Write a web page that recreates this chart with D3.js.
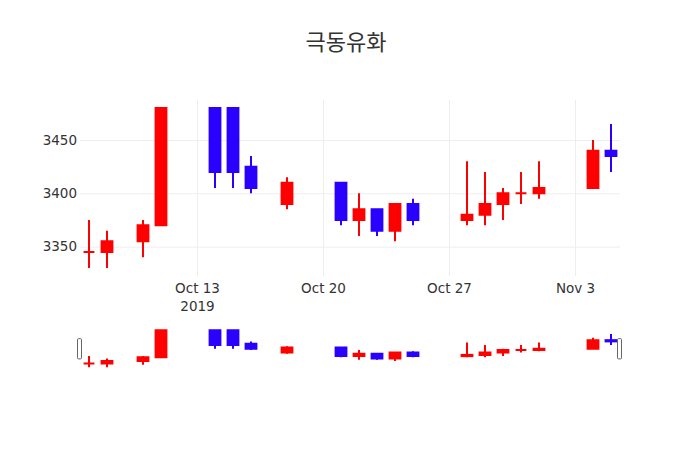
<!DOCTYPE html>
<html>
<head>
<meta charset="utf-8">
<script src="https://cdn.jsdelivr.net/npm/d3@7"></script>
<style>
    body { margin: 0; background: #fff; }
    .axis text { font-family: "DejaVu Sans", sans-serif; font-size: 13.5px; fill: #333; }
</style>
</head>
<body>
<svg id="chart" width="700" height="450"></svg>
<script>
const width = 700;
const height = 450;
const plot = { left: 80, right: 620, top: 100, bottom: 276 };
const slider = { top: 328.5, bottom: 369 };

const title = "극동유화";
const dates = ["2019-10-07", "2019-10-08", "2019-10-10", "2019-10-11", "2019-10-14",
    "2019-10-15", "2019-10-16", "2019-10-18", "2019-10-21", "2019-10-22",
    "2019-10-23", "2019-10-24", "2019-10-25", "2019-10-28", "2019-10-29",
    "2019-10-30", "2019-10-31", "2019-11-01", "2019-11-04", "2019-11-05"];
const opens = [3345, 3345, 3355, 3370, 3480, 3480, 3425, 3390, 3410, 3375,
    3385, 3365, 3390, 3375, 3380, 3390, 3400, 3400, 3405, 3440];
const highs = [3375, 3365, 3375, 3480, 3480, 3480, 3435, 3415, 3410, 3400,
    3385, 3390, 3395, 3430, 3420, 3405, 3420, 3430, 3450, 3465];
const lows = [3330, 3330, 3340, 3370, 3405, 3405, 3400, 3385, 3370, 3360,
    3360, 3355, 3370, 3370, 3370, 3375, 3390, 3395, 3405, 3420];
const closes = [3345, 3355, 3370, 3480, 3420, 3420, 3405, 3410, 3375, 3385,
    3365, 3390, 3375, 3380, 3390, 3400, 3400, 3405, 3440, 3435];
const yTicks = [3350, 3400, 3450];
const xTicks = ["2019-10-13", "2019-10-20", "2019-10-27", "2019-11-03"];

const upColor = "#ff0000";
const downColor = "#2a00ff";
const day = 24 * 3600 * 1000;

const parse = d3.timeParse("%Y-%m-%d");
const data = dates.map((d, i) => ({
    date: parse(d), open: opens[i], high: highs[i], low: lows[i], close: closes[i]
}));

const svg = d3.select("#chart");

// x scale, half a day of padding on each side
const x = d3.scaleTime()
    .domain([new Date(+data[0].date - day / 2), new Date(+data[data.length - 1].date + day / 2)])
    .range([plot.left, plot.right]);

// y domain padded by 5% like plotly autorange
const yMin = d3.min(lows), yMax = d3.max(highs);
const pad = (yMax - yMin) * 0.05;
const y = d3.scaleLinear()
    .domain([yMin - pad, yMax + pad])
    .range([plot.bottom, plot.top]);

const ys = d3.scaleLinear()
    .domain(y.domain())
    .range([slider.bottom, slider.top]);

// title
svg.append("text")
    .attr("x", width / 2 - 4)
    .attr("y", 50)
    .attr("text-anchor", "middle")
    .attr("font-family", "'Noto Sans CJK KR', sans-serif")
    .attr("font-size", "22px")
    .attr("fill", "#333")
    .text(title);

// y axis with gridlines
const yAxis = svg.append("g")
    .attr("class", "axis y")
    .attr("transform", `translate(${plot.left}, 0)`)
    .call(d3.axisLeft(y)
        .tickValues(yTicks)
        .tickSize(-(plot.right - plot.left))
        .tickPadding(3)
        .tickFormat(d3.format("d")));
yAxis.select(".domain").remove();
yAxis.selectAll("line").attr("stroke", "#eee");

// x axis with gridlines
const xAxis = svg.append("g")
    .attr("class", "axis x")
    .attr("transform", `translate(0, ${plot.bottom})`)
    .call(d3.axisBottom(x)
        .tickValues(xTicks.map(parse))
        .tickSize(-(plot.bottom - plot.top))
        .tickPadding(7)
        .tickFormat(d3.timeFormat("%b %-d")));
xAxis.select(".domain").remove();
xAxis.selectAll("line").attr("stroke", "#eee");
xAxis.select(".tick text")
    .append("tspan")
    .attr("x", 0)
    .attr("dy", "1.33em")
    .text("2019");

const bodyWidth = x(new Date(+data[0].date + 0.3 * day)) - x(new Date(+data[0].date - 0.3 * day));
const color = d => d.close >= d.open ? upColor : downColor;

function drawCandles(g, yScale) {
    const c = g.selectAll("g")
        .data(data)
        .enter()
        .append("g");

    c.append("line")
        .attr("x1", d => x(d.date))
        .attr("x2", d => x(d.date))
        .attr("y1", d => yScale(d.high))
        .attr("y2", d => yScale(d.low))
        .attr("stroke", color)
        .attr("stroke-width", 2);

    // body as a path so a flat candle still shows its outline
    c.append("path")
        .attr("d", d => {
            const x0 = x(d.date) - bodyWidth / 2;
            const y0 = yScale(Math.max(d.open, d.close));
            const h = Math.abs(yScale(d.open) - yScale(d.close));
            return `M${x0},${y0}h${bodyWidth}v${h}h${-bodyWidth}Z`;
        })
        .attr("fill", color)
        .attr("stroke", color)
        .attr("stroke-width", 2);
}

drawCandles(svg.append("g").attr("class", "candles"), y);
drawCandles(svg.append("g").attr("class", "slider-candles"), ys);

// range slider grabbers
const mid = (slider.top + slider.bottom) / 2;
const handleH = (slider.bottom - slider.top) / 2;
svg.append("g")
    .attr("class", "grabbers")
    .selectAll("rect")
    .data(x.range())
    .enter()
    .append("rect")
    .attr("x", d => d - 2.5)
    .attr("y", mid - handleH / 2)
    .attr("width", 4)
    .attr("height", handleH)
    .attr("rx", 1)
    .attr("fill", "#fff")
    .attr("stroke", "#666")
    .attr("stroke-width", 1);
</script>
</body>
</html>
